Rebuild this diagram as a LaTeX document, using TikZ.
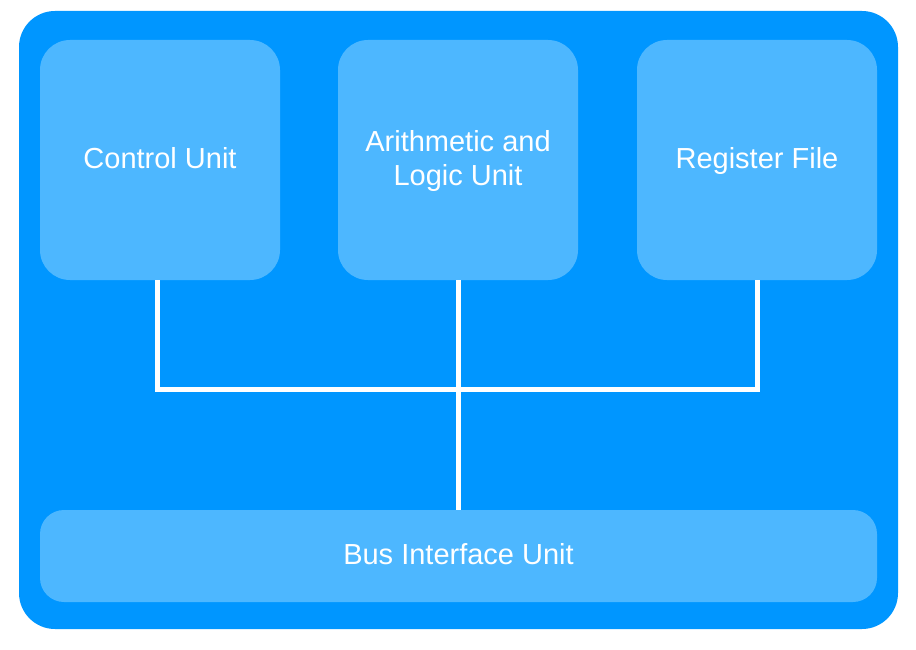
\documentclass[tikz,border=0pt]{standalone}
\usepackage{fontspec}
\setmainfont{Liberation Sans}
\definecolor{outerblue}{RGB}{0,150,255}
\definecolor{innerblue}{RGB}{77,183,255}
\newcommand\ustrut{\rule[-8pt]{0pt}{32.6pt}}
\begin{document}
\begin{tikzpicture}[x=1pt,y=-1pt,
  unitbox/.style={fill=innerblue, draw=none, rounded corners=30pt, text=white,
    font=\fontsize{29}{32.5}\selectfont, align=center, inner sep=0pt},
  bus/.style={draw=white, line width=5pt}]
\useasboundingbox (0,0) rectangle (916,650);
\fill[outerblue, rounded corners=36pt] (19,11) rectangle (898,629);
\node[unitbox, minimum width=240pt, minimum height=240pt] (cu) at (160,160) {\ustrut Control Unit};
\node[unitbox, minimum width=240pt, minimum height=240pt] (alu) at (458,160) {\ustrut Arithmetic and\\\ustrut Logic Unit};
\node[unitbox, minimum width=240pt, minimum height=240pt] (rf) at (757,160) {\ustrut Register File};
\node[unitbox, rounded corners=24pt, minimum width=837pt, minimum height=92pt] (biu) at (458.5,556) {\ustrut Bus Interface Unit};
\coordinate (j) at (alu.south |- 0,389.5);
\draw[bus] ([xshift=-2.5pt]cu.south) |- (j);
\draw[bus] (rf.south) |- (j);
\draw[bus] (alu.south) -- (biu.north -| alu.south);
\end{tikzpicture}
\end{document}
